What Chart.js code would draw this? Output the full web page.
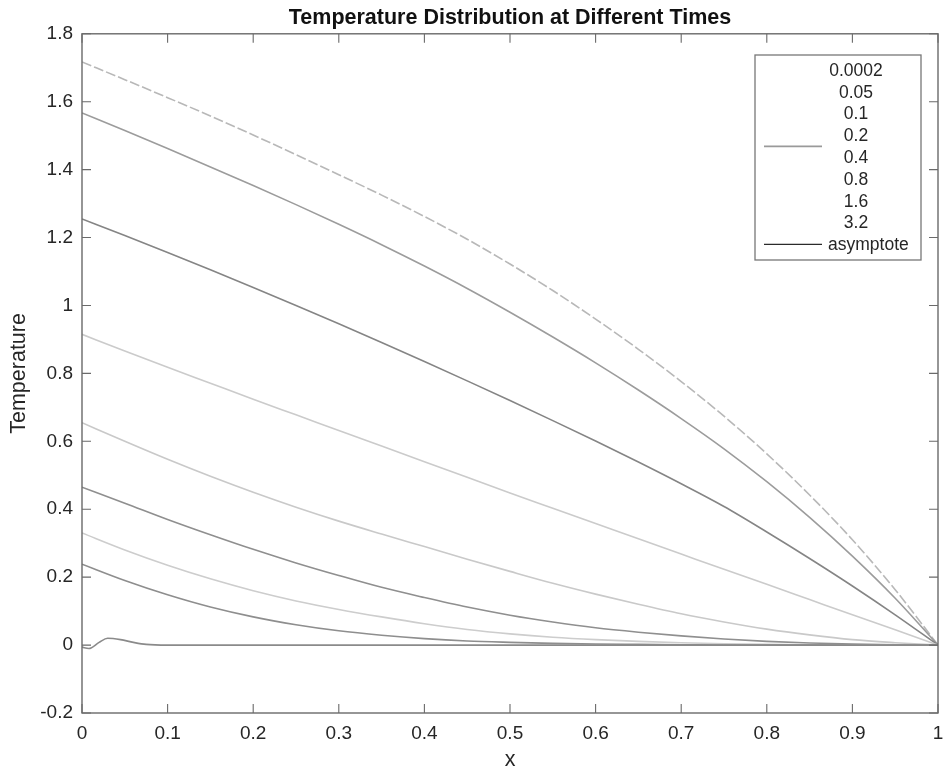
<!DOCTYPE html>
<html>
<head>
<meta charset="utf-8">
<title>Temperature Distribution at Different Times</title>
<script src="https://cdn.jsdelivr.net/npm/chart.js@4.4.1/dist/chart.umd.min.js"></script>
<style>
  html, body { margin: 0; padding: 0; background: #fff; }
  #wrap { width: 943px; height: 778px; }
</style>
</head>
<body>
<div id="wrap"><canvas id="grafico" width="943" height="778"></canvas></div>
<script>
// x positions of the sampled curves
const xs = [0, 0.05, 0.1, 0.15, 0.2, 0.25, 0.3, 0.35, 0.4, 0.45, 0.5,
            0.55, 0.6, 0.65, 0.7, 0.75, 0.8, 0.85, 0.9, 0.95, 1];
// finer grid for the initial profile (small bump near x=0)
const xsInit = [0, 0.008, 0.02, 0.03, 0.045, 0.06, 0.075, 0.1, 0.2, 0.3, 0.4, 0.5, 0.6, 0.7, 0.8, 0.9, 1];

const labels = ['0.0002', '0.05', '0.1', '0.2', '0.4', '0.8', '1.6', '3.2', 'asymptote'];

const t0002 = [-0.006, -0.01, 0.008, 0.02, 0.016, 0.008, 0.002, 0, 0, 0, 0, 0, 0, 0, 0, 0, 0];
const t005 = [0.238, 0.19, 0.148, 0.112, 0.083, 0.06, 0.042, 0.029, 0.019, 0.012, 0.008,
              0.005, 0.003, 0.002, 0.001, 0, 0, 0, 0, 0, 0];
const t01 = [0.33, 0.28, 0.235, 0.195, 0.16, 0.13, 0.105, 0.083, 0.063, 0.046, 0.033,
             0.023, 0.016, 0.011, 0.007, 0.004, 0.002, 0.001, 0.001, 0, 0];
const t02 = [0.465, 0.418, 0.37, 0.325, 0.282, 0.242, 0.205, 0.17, 0.14, 0.112, 0.088,
             0.068, 0.051, 0.038, 0.027, 0.018, 0.011, 0.006, 0.003, 0.001, 0];
const t04 = [0.655, 0.6, 0.547, 0.497, 0.45, 0.406, 0.365, 0.327, 0.29, 0.253, 0.217,
             0.182, 0.15, 0.12, 0.092, 0.068, 0.047, 0.03, 0.016, 0.007, 0];
const t08 = [0.915, 0.866, 0.818, 0.771, 0.724, 0.678, 0.632, 0.586, 0.54, 0.494, 0.448,
             0.403, 0.358, 0.313, 0.268, 0.223, 0.179, 0.134, 0.089, 0.045, 0];
const t16 = [1.255, 1.206, 1.156, 1.105, 1.053, 1.0, 0.946, 0.891, 0.835, 0.778, 0.72,
             0.661, 0.601, 0.539, 0.475, 0.408, 0.333, 0.255, 0.174, 0.089, 0];
const t32 = [1.567, 1.515, 1.462, 1.408, 1.353, 1.297, 1.239, 1.179, 1.116, 1.05, 0.98,
             0.907, 0.831, 0.751, 0.667, 0.578, 0.481, 0.376, 0.262, 0.138, 0];
const asymptote = [1.717, 1.665, 1.612, 1.558, 1.502, 1.444, 1.385, 1.325, 1.262, 1.195, 1.122,
                   1.044, 0.96, 0.871, 0.776, 0.674, 0.563, 0.442, 0.31, 0.163, 0];

const yTicks = [-0.2, 0, 0.2, 0.4, 0.6, 0.8, 1, 1.2, 1.4, 1.6, 1.8];

function pontos(xv, yv) {
    return xv.map((x, i) => ({ x: x, y: yv[i] }));
}

const series = [t0002, t005, t01, t02, t04, t08, t16, t32, asymptote];
const cores = ['#8a8a8a', '#8e8e8e', '#cdcdcd', '#8f8f8f', '#c9c9c9', '#cbcbcb', '#858585', '#9c9c9c', '#b8b8b8'];
// legend samples: only two are visible in the scanned original
const amostra = [null, null, null, '#9a9a9a', null, null, null, null, '#2b2b2b'];

const datasets = series.map((s, i) => ({
    label: labels[i],
    data: pontos(i === 0 ? xsInit : xs, s),
    borderColor: cores[i],
    borderWidth: 1.6,
    borderDash: i === 8 ? [10, 3] : [],
    pointRadius: 0,
    cubicInterpolationMode: 'monotone',
    fill: false
}));

const fonte = "'Liberation Sans', Arial, Helvetica, sans-serif";

// moldura estilo MATLAB com ticks para dentro + legenda
const moldura = {
    id: 'moldura',
    afterDatasetsDraw(chart) {
        const { ctx, chartArea: a, scales } = chart;
        ctx.save();
        ctx.strokeStyle = '#6a6a6a';
        ctx.lineWidth = 1.4;
        ctx.strokeRect(a.left, a.top, a.right - a.left, a.bottom - a.top);
        ctx.lineWidth = 1.1;
        ctx.beginPath();
        scales.x.ticks.forEach(t => {
            const px = scales.x.getPixelForValue(t.value);
            ctx.moveTo(px, a.bottom); ctx.lineTo(px, a.bottom - 9);
            ctx.moveTo(px, a.top); ctx.lineTo(px, a.top + 9);
        });
        scales.y.ticks.forEach(t => {
            const py = scales.y.getPixelForValue(t.value);
            ctx.moveTo(a.left, py); ctx.lineTo(a.left + 9, py);
            ctx.moveTo(a.right, py); ctx.lineTo(a.right - 9, py);
        });
        ctx.stroke();

        // legenda
        const bx = 755, by = 55, bw = 166, bh = 205;
        ctx.fillStyle = '#fff';
        ctx.fillRect(bx, by, bw, bh);
        ctx.strokeStyle = '#777';
        ctx.lineWidth = 1.3;
        ctx.strokeRect(bx, by, bw, bh);
        ctx.font = '17.5px ' + fonte;
        ctx.fillStyle = '#262626';
        ctx.textBaseline = 'middle';
        chart.data.datasets.forEach((ds, i) => {
            const ly = 71 + i * 21.8;
            if (i === 8) {
                ctx.textAlign = 'left';
                ctx.fillText(ds.label, 828, ly);
            } else {
                ctx.textAlign = 'center';
                ctx.fillText(ds.label, 856, ly);
            }
            if (amostra[i]) {
                ctx.strokeStyle = amostra[i];
                ctx.lineWidth = i === 8 ? 1.2 : 1.6;
                ctx.beginPath();
                const sy = i === 8 ? ly - 1 : ly + 10;
                ctx.moveTo(764, sy); ctx.lineTo(822, sy);
                ctx.stroke();
            }
        });
        ctx.restore();
    }
};

new Chart(document.getElementById('grafico'), {
    type: 'line',
    data: { datasets: datasets },
    options: {
        responsive: false,
        animation: false,
        layout: { padding: { left: 0, right: 5, top: 0, bottom: 0 } },
        plugins: {
            legend: { display: false },
            tooltip: { enabled: false },
            title: {
                display: true,
                fullSize: false,
                text: 'Temperature Distribution at Different Times',
                color: '#111',
                font: { family: fonte, size: 21.5, weight: 'bold' },
                padding: { top: 5, bottom: 3 }
            }
        },
        scales: {
            x: {
                type: 'linear',
                min: 0, max: 1,
                grid: { display: false, drawTicks: false },
                border: { display: false },
                ticks: {
                    stepSize: 0.1,
                    padding: 9,
                    color: '#262626',
                    font: { family: fonte, size: 19 },
                    maxRotation: 0,
                    callback: v => String(Number(v.toFixed(1)))
                },
                title: {
                    display: true, text: 'x', color: '#262626',
                    font: { family: fonte, size: 21.5 },
                    padding: { top: 2, bottom: 5 }
                },
                afterFit: s => { s.height = 65; s.paddingLeft = 0; s.paddingRight = 0; }
            },
            y: {
                type: 'linear',
                min: -0.2, max: 1.8,
                afterBuildTicks: s => { s.ticks = yTicks.map(v => ({ value: v })); },
                grid: { display: false, drawTicks: false },
                border: { display: false },
                ticks: {
                    padding: 9,
                    color: '#262626',
                    font: { family: fonte, size: 19 },
                    callback: v => String(Number(v.toFixed(1)))
                },
                title: {
                    display: true, text: 'Temperature', color: '#262626',
                    font: { family: fonte, size: 21.5 },
                    padding: { top: 6, bottom: 0 }
                },
                afterFit: s => { s.width = 82; s.paddingTop = 0; s.paddingBottom = 0; }
            }
        }
    },
    plugins: [moldura]
});
</script>
</body>
</html>
